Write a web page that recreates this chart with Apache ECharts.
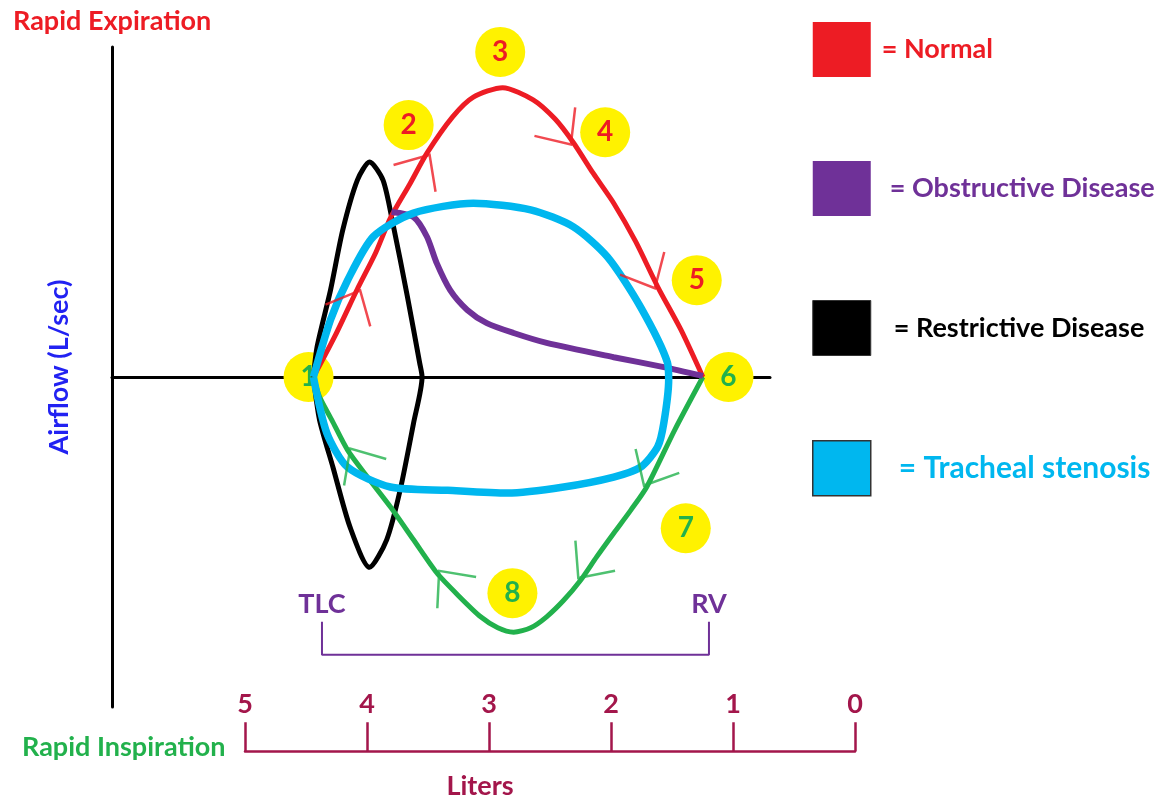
<!DOCTYPE html>
<html>
<head>
<meta charset="utf-8">
<script src="https://cdn.jsdelivr.net/npm/echarts@6/dist/echarts.min.js"></script>
<style>html,body{margin:0;background:#fff}#chart{width:1165px;height:798px}</style>
</head>
<body>
<div id="chart"></div>
<script>
// [volume (L), flow (L/sec)]
const normalExpiration = [[4.44,0],[4.26,0.76],[4.08,1.6],[3.93,2.26],[3.81,2.89],[3.65,3.51],[3.51,4.07],[3.3,4.73],[3.13,5.09],[2.89,5.26],[2.64,5.04],[2.46,4.69],[2.31,4.26],[2.15,3.71],[1.98,3.16],[1.8,2.46],[1.62,1.64],[1.43,0.86],[1.25,0]]
const normalInspiration = [[1.25,0],[1.48,-0.96],[1.71,-2.0],[1.84,-2.42],[1.98,-2.84],[2.12,-3.27],[2.25,-3.69],[2.39,-4.06],[2.53,-4.36],[2.66,-4.56],[2.8,-4.64],[2.93,-4.56],[3.07,-4.36],[3.25,-3.98],[3.43,-3.56],[3.62,-2.96],[3.81,-2.36],[3.99,-1.84],[4.16,-1.33],[4.29,-0.78],[4.39,-0.36],[4.44,0]]
const obstructive = [[3.8,3.0],[3.62,2.91],[3.51,2.55],[3.43,2.07],[3.32,1.58],[3.18,1.22],[3.02,0.98],[2.8,0.8],[2.53,0.62],[1.98,0.36],[1.57,0.18],[1.25,0.02]]
const restrictive = [[4.44,0],[4.41,0.55],[4.3,1.58],[4.2,2.67],[4.08,3.58],[3.98,3.91],[3.87,3.58],[3.79,2.8],[3.67,1.46],[3.57,0.26],[3.55,0],[3.62,-0.84],[3.73,-2.06],[3.84,-2.96],[3.98,-3.46],[4.14,-2.73],[4.28,-1.64],[4.39,-0.78],[4.44,0]]
const stenosis = [[4.44,0],[4.3,1.04],[4.16,1.76],[3.95,2.55],[3.62,2.98],[3.13,3.16],[2.66,3.04],[2.31,2.73],[2.03,2.18],[1.76,1.27],[1.54,0.26],[1.53,-0.05],[1.57,-0.84],[1.62,-1.27],[1.76,-1.64],[1.98,-1.82],[2.39,-2.0],[2.85,-2.11],[3.34,-2.06],[3.81,-2.0],[4.16,-1.64],[4.33,-1.02],[4.44,0]]

const markerLabels = ['1','2','3','4','5','6','7','8']
const markerPoints = [[4.48,0],[3.66,4.58],[2.91,5.91],[2.05,4.45],[1.3,1.76],[1.04,0],[1.39,-2.75],[2.81,-3.93]]
const redMarkers = ['2','3','4','5']
const literTicks = [0,1,2,3,4,5]
const tlcVolume = 4.37
const rvVolume = 1.2
const bracketFlow = [-4.45,-5.05]
const expirationArrowIdx = [2,6,12,16]
const inspirationArrowIdx = [2,6,14,18]

const RED = '#ED1C24', GREEN = '#22B14C', PURPLE = '#6F3198', BLUE = '#00B7EF', YELLOW = '#FFF200', MAROON = '#A3164B'
const FONT = 'Lato'

var chart = echarts.init(document.getElementById('chart'))

const bold = (size, color) => ({ fontFamily: FONT, fontWeight: 'bold', fontSize: size, color: color })

const loopSeries = (name, data, color, width, z) => ({
  name: name, type: 'line', data: data, smooth: 0.25, showSymbol: false,
  xAxisIndex: 0, yAxisIndex: 0, z: z,
  itemStyle: { color: color }, lineStyle: { color: color, width: width }
})

const option = {
  animation: false,
  title: [
    { text: 'Rapid Expiration', left: 8, top: 3, textStyle: bold(27, RED) },
    { text: 'Rapid Inspiration', left: 17, top: 729, textStyle: bold(27, GREEN) }
  ],
  legend: {
    orient: 'vertical', left: 812, top: 22, padding: 0, icon: 'rect',
    itemWidth: 58, itemHeight: 55, itemGap: 84,
    formatter: '= {name}',
    textStyle: bold(27, '#000'),
    data: [
      { name: 'Normal', textStyle: { color: RED, padding: [0,0,0,6] } },
      { name: 'Obstructive Disease', textStyle: { color: PURPLE, padding: [0,0,0,14] } },
      { name: 'Restrictive Disease', textStyle: { color: '#000', padding: [0,0,0,18] }, itemStyle: { borderColor: '#333', borderWidth: 1 } },
      { name: 'Tracheal stenosis', textStyle: { color: BLUE, fontSize: 30, padding: [0,0,0,23] }, itemStyle: { borderColor: '#333', borderWidth: 1.5 } }
    ]
  },
  grid: [
    { left: 112, top: 47, width: 658, height: 660 },
    { left: 245, top: 751, width: 610, height: 1 }
  ],
  xAxis: [
    { gridIndex: 0, type: 'value', min: 0.7, max: 6.09, inverse: true,
      axisLine: { onZero: true, lineStyle: { color: '#000', width: 3 } },
      axisTick: { show: false }, axisLabel: { show: false }, splitLine: { show: false } },
    { gridIndex: 1, type: 'value', min: literTicks[0], max: literTicks[literTicks.length - 1], interval: 1, inverse: true,
      position: 'bottom',
      axisLine: { lineStyle: { color: MAROON, width: 2.5 } },
      axisTick: { inside: true, length: 29, lineStyle: { color: MAROON, width: 2.5 } },
      axisLabel: Object.assign({ inside: true, margin: 33 }, bold(27, MAROON)),
      splitLine: { show: false },
      name: 'Liters', nameLocation: 'middle', nameGap: 22,
      nameTextStyle: Object.assign({ padding: [0, 140, 0, 0] }, bold(27, MAROON)) }
  ],
  yAxis: [
    { gridIndex: 0, type: 'value', min: -6, max: 6,
      axisLine: { show: true, onZero: false, lineStyle: { color: '#000', width: 3 } },
      axisTick: { show: false }, axisLabel: { show: false }, splitLine: { show: false },
      name: 'Airflow (L/sec)', nameLocation: 'middle', nameGap: 39,
      nameTextStyle: Object.assign({ padding: [0, 0, 0, 20] }, bold(27, '#2222F2')) },
    { gridIndex: 1, type: 'value', show: false }
  ],
  series: [
    {
      name: 'markers', type: 'scatter', z: 1, symbolSize: 50,
      itemStyle: { color: YELLOW, opacity: 1 },
      label: { show: true, position: 'inside', fontFamily: FONT, fontWeight: 'bold', fontSize: 28 },
      data: markerLabels.map((m, i) => ({
        value: markerPoints[i], name: m,
        label: { formatter: m, color: redMarkers.includes(m) ? RED : GREEN }
      }))
    },
    {
      name: 'volume range', type: 'line', z: 2, showSymbol: false, symbol: 'none',
      lineStyle: { color: PURPLE, width: 2 },
      data: [[tlcVolume, bracketFlow[0]], [tlcVolume, bracketFlow[1]], [rvVolume, bracketFlow[1]], [rvVolume, bracketFlow[0]]],
      markPoint: {
        symbol: 'circle', symbolSize: 0,
        label: Object.assign({ show: true, position: 'top', distance: 4, formatter: '{b}' }, bold(27, PURPLE)),
        data: [{ name: 'TLC', coord: [tlcVolume, bracketFlow[0]] }, { name: 'RV', coord: [rvVolume, bracketFlow[0]] }]
      }
    },
    loopSeries('Restrictive Disease', restrictive, '#000', 5, 3),
    loopSeries('Normal', normalExpiration, RED, 5, 4),
    loopSeries('Inspiration', normalInspiration, GREEN, 5, 4),
    loopSeries('Obstructive Disease', obstructive, PURPLE, 6, 5),
    loopSeries('Tracheal stenosis', stenosis, BLUE, 7.5, 6)
  ]
}
chart.setOption(option)

// chevrons along the normal loop, pointing in the direction of travel
const chevron = 'path://M4,40L20,20L36,40M20,0L20,0M0,20L0,20'
function arrowData(pts, idx) {
  return idx.map(i => {
    const a = chart.convertToPixel({ gridIndex: 0 }, pts[i - 1])
    const b = chart.convertToPixel({ gridIndex: 0 }, pts[i + 1])
    const ang = Math.atan2(-(b[0] - a[0]), -(b[1] - a[1])) * 180 / Math.PI
    return { value: pts[i], symbolRotate: ang }
  })
}
const arrowSeries = (name, data, color) => ({
  name: name, type: 'scatter', z: 7, symbol: chevron, symbolSize: 56,
  itemStyle: { color: 'none', borderColor: color, borderWidth: 2.5 },
  label: { show: false },
  data: data
})
option.series.push(
  arrowSeries('arrows out', arrowData(normalExpiration, expirationArrowIdx), RED),
  arrowSeries('arrows in', arrowData(normalInspiration, inspirationArrowIdx), GREEN)
)
chart.setOption(option, true)
</script>
</body>
</html>
